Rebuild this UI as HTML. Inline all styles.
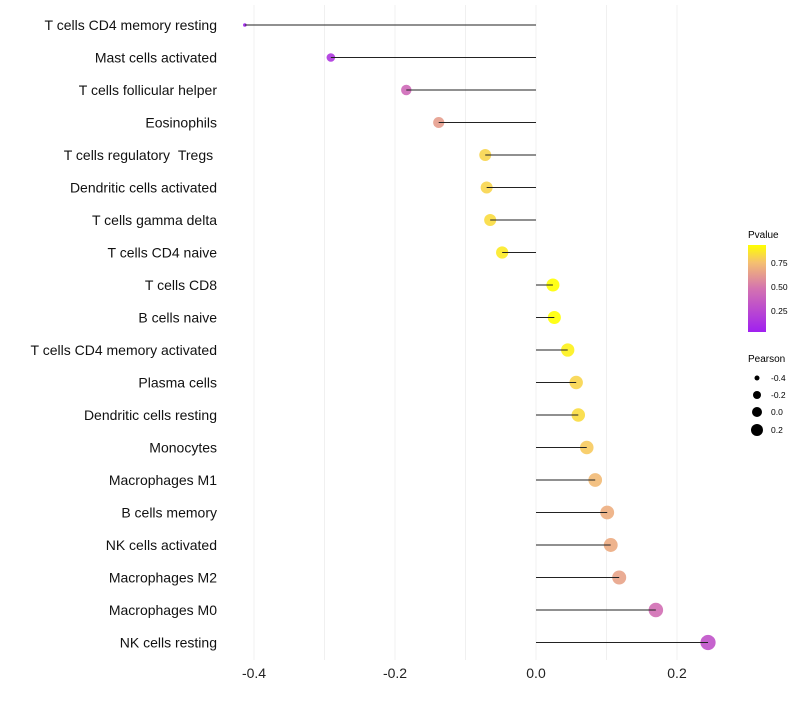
<!DOCTYPE html>
<html><head><meta charset="utf-8"><style>
body{margin:0;background:#fff;font-family:"Liberation Sans",sans-serif}
</style></head><body>
<svg id="c" width="800" height="700" xmlns="http://www.w3.org/2000/svg">
<defs><linearGradient id="pg" x1="0" y1="1" x2="0" y2="0">
<stop offset="0" stop-color="#a020f0"/><stop offset="0.5" stop-color="#d473b0"/><stop offset="0.8" stop-color="#f5c070"/><stop offset="1" stop-color="#ffff00"/></linearGradient></defs>
<g id="grid"></g><g id="pts"></g><g id="segs"></g><g id="labels"></g><g id="ticks"></g>
<g>
<text x="748" y="238" font-size="10" fill="#000">Pvalue</text>
<rect x="748" y="245" width="18" height="87" fill="url(#pg)"/>
<text x="771" y="266" font-size="8.5">0.75</text>
<text x="771" y="290" font-size="8.5">0.50</text>
<text x="771" y="314" font-size="8.5">0.25</text>
</g>
<g>
<text x="748" y="362" font-size="10" fill="#000">Pearson</text>
<circle cx="757" cy="378" r="2.5"/><text x="771" y="381" font-size="8.5">-0.4</text>
<circle cx="757" cy="395" r="4"/><text x="771" y="398" font-size="8.5">-0.2</text>
<circle cx="757" cy="412" r="5"/><text x="771" y="415" font-size="8.5">0.0</text>
<circle cx="757" cy="430" r="6"/><text x="771" y="433" font-size="8.5">0.2</text>
</g>
</svg>
<script>
const cells=["T cells CD4 memory resting","Mast cells activated","T cells follicular helper","Eosinophils","T cells regulatory\u00a0\u00a0Tregs\u00a0","Dendritic cells activated","T cells gamma delta","T cells CD4 naive","T cells CD8","B cells naive","T cells CD4 memory activated","Plasma cells","Dendritic cells resting","Monocytes","Macrophages M1","B cells memory","NK cells activated","Macrophages M2","Macrophages M0","NK cells resting"];
const pearson=[-0.413,-0.291,-0.184,-0.138,-0.072,-0.070,-0.065,-0.048,0.024,0.026,0.045,0.057,0.060,0.072,0.084,0.101,0.106,0.118,0.170,0.244];
const pvalue=[0.03,0.15,0.42,0.62,0.8,0.8,0.82,0.86,0.95,0.95,0.88,0.8,0.82,0.77,0.72,0.68,0.67,0.64,0.45,0.3];
const xticks=[-0.4,-0.2,0.0,0.2];
const ns="http://www.w3.org/2000/svg";
const X=v=>536+v*705, Y=i=>25+i*32.5;
const R=v=>1.8+5.8*Math.sqrt(Math.max(0,(v+0.413)/0.657));
function col(p){const t=Math.max(0,Math.min(1,(p-0.03)/0.89));
const st=[[0,[160,32,240]],[0.5,[212,115,176]],[0.8,[245,192,112]],[1,[255,255,0]]];
for(let k=1;k<st.length;k++){if(t<=st[k][0]){const a=st[k-1],b=st[k],u=(t-a[0])/(b[0]-a[0]);
return 'rgb('+a[1].map((c,j)=>Math.round(c+(b[1][j]-c)*u)).join(',')+')';}}return 'rgb(255,255,0)';}
function mk(t,a,p){const e=document.createElementNS(ns,t);for(const k in a)e.setAttribute(k,a[k]);p.appendChild(e);return e;}
const g=document.getElementById('grid');
for(let k=-4;k<=2;k++){const v=k/10;const l=mk('line',{x1:X(v),x2:X(v),y1:5,y2:660,stroke:'#f0f0f0','stroke-width':1},g);

}
const pg=document.getElementById('pts'),sg=document.getElementById('segs'),lg=document.getElementById('labels'),tg=document.getElementById('ticks');
cells.forEach((c,i)=>{
const p=mk('circle',{cx:X(pearson[i]),cy:Y(i),r:R(pearson[i]),fill:col(pvalue[i]),'fill-opacity':0.9},pg);


const s=mk('line',{x1:X(0),x2:X(pearson[i]),y1:Y(i),y2:Y(i),stroke:'#222','stroke-width':1.1},sg);


const t=mk('text',{x:217,y:Y(i)+5,'text-anchor':'end','font-size':14,fill:'#111'},lg);t.textContent=c;

});
xticks.forEach(v=>{const t=mk('text',{x:X(v),y:678,'text-anchor':'middle','font-size':14,fill:'#222'},tg);
t.textContent=v.toFixed(1);

});
</script>
</body></html>
